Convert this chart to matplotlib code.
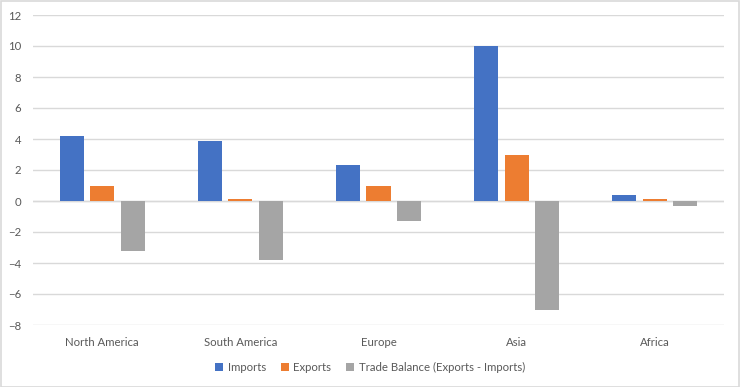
import numpy as np
import matplotlib.pyplot as plt
from matplotlib.patches import Rectangle

plt.rcParams['font.family'] = ['Lato', 'DejaVu Sans']

regions = ['North America', 'South America', 'Europe', 'Asia', 'Africa']
imports = [4.2, 3.9, 2.3, 10.0, 0.4]
exports = [1.0, 0.1, 1.0, 3.0, 0.1]
balance = [-3.2, -3.8, -1.3, -7.0, -0.3]

series = [('Imports', imports, '#4472C4'),
          ('Exports', exports, '#ED7D31'),
          ('Trade Balance (Exports - Imports)', balance, '#A5A5A5')]

fig = plt.figure(figsize=(7.4, 3.87), dpi=100)
ax = fig.add_axes([33/740, 1-325/387, (724-33)/740, (325-15)/387])

x = np.arange(len(regions))
w = 0.174
step = 0.221
for i, (name, vals, col) in enumerate(series):
	ax.bar(x + (i-1)*step, vals, width=w, color=col, label=name, zorder=3)

ax.set_xlim(-0.5, len(regions)-0.5)
ax.set_ylim(-8, 12)
ax.set_yticks(np.arange(-8, 13, 2))
ax.yaxis.grid(True, color='#D9D9D9', linewidth=1, zorder=0)
ax.axhline(0, color='#D9D9D9', linewidth=1, zorder=1)
for s in ax.spines.values():
	s.set_visible(False)
ax.tick_params(length=0, colors='#595959', labelsize=8.2)
ax.tick_params(axis='x', pad=9)
ax.tick_params(axis='y', pad=8.5)
ax.set_xticks(x)
ax.set_xticklabels(regions)

leg = fig.legend(loc='center', bbox_to_anchor=(0.5, 1-367/387), ncol=3, frameon=False,
	fontsize=8.2, handlelength=0.7, handleheight=0.7, handletextpad=0.4, columnspacing=1.3)
for t in leg.get_texts():
	t.set_color('#595959')

fig.patches.append(Rectangle((0.001, 0.001), 0.997, 0.996, transform=fig.transFigure,
	fill=False, edgecolor='#D9D9D9', linewidth=1.2))

fig.savefig('out.png', dpi=100)
